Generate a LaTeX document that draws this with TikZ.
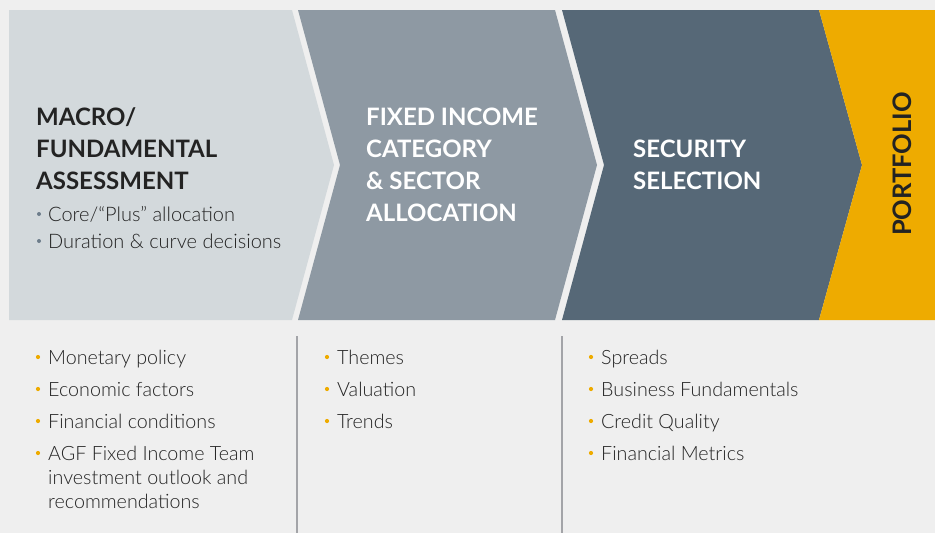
\documentclass[tikz,border=0pt]{standalone}
\usepackage{fontspec}
\setmainfont{Lato}
\newfontfamily\headfont{Lato}[UprightFont=* Bold]
\newfontfamily\bodyfont{Lato Light}
\definecolor{pagebg}{HTML}{EFEFEF}
\definecolor{stepone}{HTML}{D3D9DC}
\definecolor{steptwo}{HTML}{8E99A3}
\definecolor{stepthree}{HTML}{566877}
\definecolor{gold}{HTML}{EEAB00}
\definecolor{ink}{HTML}{232323}
\definecolor{slatedot}{HTML}{6D7D8B}
\definecolor{rulegray}{HTML}{A3A4A8}
\tikzset{
  % multi-line nodes are placed by the baseline of their last line
  head/.style={anchor=base west, inner sep=0pt, align=left, font=\headfont\fontsize{24}{32}\selectfont},
  sub/.style={anchor=base west, inner sep=0pt, font=\bodyfont\fontsize{20}{27}\selectfont, text=ink},
  item/.style={anchor=base west, inner sep=0pt, align=left, font=\bodyfont\fontsize{19.7}{24}\selectfont, text=ink},
  golddot/.style={circle, fill=gold, inner sep=0pt, minimum size=4.2pt},
  slatedotsty/.style={circle, fill=slatedot, inner sep=0pt, minimum size=4pt},
  divider/.style={draw=rulegray, line width=2pt},
}
\begin{document}
\begin{tikzpicture}[x=1pt,y=-1pt]
\useasboundingbox (0,0) rectangle (935,533);
\fill[pagebg] (0,0) rectangle (935,533);

% process chevrons
\fill[stepone] (9,10) -- (292,10) -- (334,165) -- (292,320) -- (9,320) -- cycle;
\fill[steptwo] (298,10) -- (555,10) -- (597,165) -- (555,320) -- (298,320) -- (340,165) -- cycle;
\fill[stepthree] (562,10) -- (819,10) -- (862,165) -- (819,320) -- (562,320) -- (604,165) -- cycle;
\fill[gold] (819,10) -- (935,10) -- (935,320) -- (819,320) -- (862,165) -- cycle;

% step titles
\node[head, text=ink] (t1) at (36,189) {MACRO/\\FUNDAMENTAL\\ASSESSMENT};
\node[head, text=white] (t2) at (366,221) {FIXED INCOME\\CATEGORY\\\&~SECTOR\\ALLOCATION};
\node[head, text=white] (t3) at (633,189) {SECURITY\\SELECTION};
\node[inner sep=0pt, rotate=90, text=ink, font=\headfont\fontsize{25.5}{25.5}\selectfont] (t4) at (902,164) {PORTFOLIO};

% sub-points of step one
\node[slatedotsty] (sd1) at (39,214) {};
\node[sub] (s1) at (48,221) {Core/“Plus” allocation};
\node[slatedotsty] (sd2) at (39,241) {};
\node[sub] (s2) at (48,248) {Duration \& curve decisions};

% column dividers
\draw[divider] (297,336) -- (297,533);
\draw[divider] (562,336) -- (562,533);

% column one
\node[golddot] (a1d) at (38,357) {};
\node[item] (a1) at (48,364) {Monetary policy};
\node[golddot] (a2d) at (38,389) {};
\node[item] (a2) at (48,396) {Economic factors};
\node[golddot] (a3d) at (38,421) {};
\node[item] (a3) at (48,428) {Financial conditions};
\node[golddot] (a4d) at (38,453) {};
\node[item] (a4) at (48,508) {AGF Fixed Income Team\\investment outlook and\\recommendations};

% column two
\node[golddot] (b1d) at (327,357) {};
\node[item] (b1) at (337,364) {Themes};
\node[golddot] (b2d) at (327,389) {};
\node[item] (b2) at (337,396) {Valuation};
\node[golddot] (b3d) at (327,421) {};
\node[item] (b3) at (337,428) {Trends};

% column three
\node[golddot] (c1d) at (591,357) {};
\node[item] (c1) at (601,364) {Spreads};
\node[golddot] (c2d) at (591,389) {};
\node[item] (c2) at (601,396) {Business Fundamentals};
\node[golddot] (c3d) at (591,421) {};
\node[item] (c3) at (601,428) {Credit Quality};
\node[golddot] (c4d) at (591,453) {};
\node[item] (c4) at (601,460) {Financial Metrics};
\end{tikzpicture}
\end{document}
